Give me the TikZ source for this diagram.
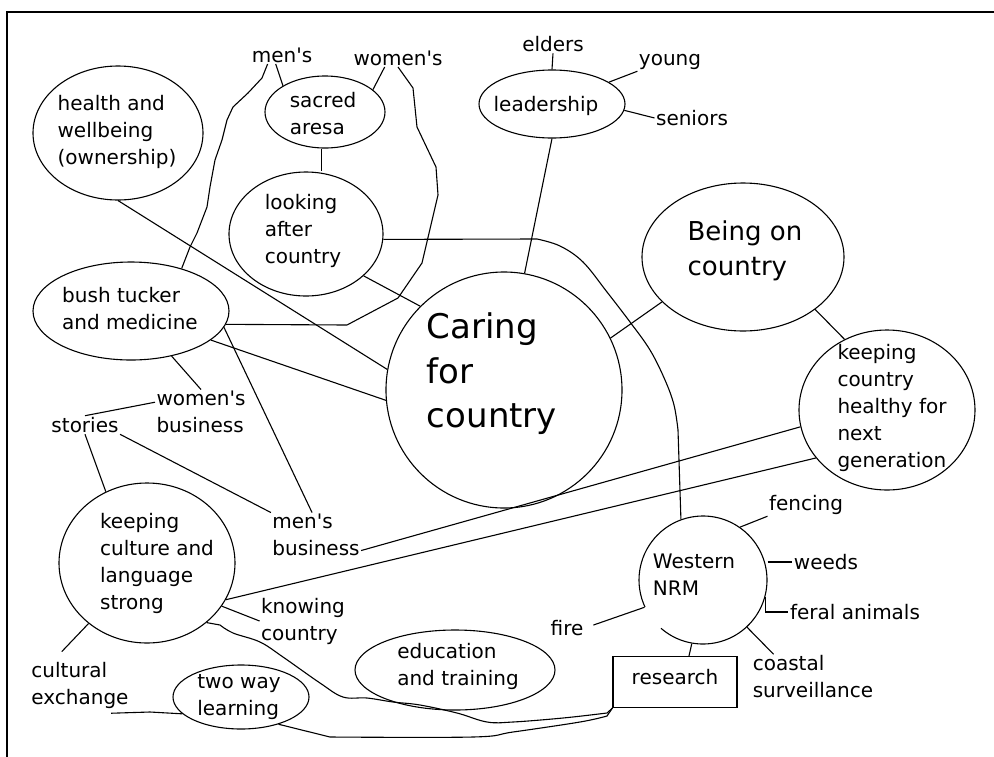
\documentclass[tikz,border=0pt]{standalone}
\usepackage{fontspec}
\setmainfont{DejaVu Sans}
\usetikzlibrary{shapes.geometric}

\begin{document}
\begin{tikzpicture}[x=1pt,y=-1pt,line width=1.1pt,
  bubble/.style={draw,ellipse,inner sep=0pt},
  ring/.style={draw,circle,inner sep=0pt},
  txt/.style={align=left,inner sep=1pt,font=\fontsize{20}{27}\selectfont},
  midtxt/.style={align=left,inner sep=1pt,font=\fontsize{26}{35}\selectfont},
  bigtxt/.style={align=left,inner sep=1pt,font=\fontsize{34}{44.5}\selectfont}]
\useasboundingbox (0,0) rectangle (994,756);
\draw[line width=2.6pt] (7,770) -- (7,12) -- (1010,12);

\node[bubble,minimum width=170pt,minimum height=134pt] (health) at (118,133) {};
\node[bubble,minimum width=120pt,minimum height=72pt] (sacred) at (325,112) {};
\node[bubble,minimum width=154pt,minimum height=124pt] (looking) at (306,234) {};
\node[bubble,minimum width=196pt,minimum height=98pt] (bush) at (131,311) {};
\node[bubble,minimum width=146pt,minimum height=68pt] (leadership) at (552,104) {};
\node[bubble,minimum width=202pt,minimum height=148pt] (being) at (743,257) {};
\node[ring,minimum size=236pt] (caring) at (504,390) {};
\node[bubble,minimum width=176pt,minimum height=160pt] (healthy) at (887,410) {};
\node[bubble,minimum width=176pt,minimum height=160pt] (culture) at (147,563) {};
\node[circle,inner sep=0pt,minimum size=128pt] (nrm) at (703,580) {};
\draw ([shift={(229:64pt)}]nrm.center) arc[start angle=229,end angle=565,radius=64pt];
\node[bubble,minimum width=200pt,minimum height=80pt] (education) at (455,670) {};
\node[bubble,minimum width=136pt,minimum height=64pt] (twoway) at (241,697) {};
\node[draw,inner sep=0pt,minimum width=124pt,minimum height=51pt] (research) at (675,682) {};

\node[txt] (healthtxt) at (117,132) {health and\\wellbeing\\(ownership)};
\node[txt] (sacredtxt) at (323,114) {sacred\\aresa};
\node[txt] (lookingtxt) at (303,231) {looking\\after\\country};
\node[txt] (bushtxt) at (130,309) {bush tucker\\and medicine};
\node[txt] (leadershiptxt) at (546,106) {leadership};
\node[midtxt] (beingtxt) at (745,251) {Being on\\country};
\node[bigtxt] (caringtxt) at (492,374) {Caring\\for\\country};
\node[txt] (healthytxt) at (892,408) {keeping\\country\\healthy for\\next\\generation};
\node[txt] (culturetxt) at (157,563) {keeping\\culture and\\language\\strong};
\node[txt] (nrmtxt) at (694,575) {Western\\NRM};
\node[txt] (educationtxt) at (458,666) {education\\and training};
\node[txt] (twowaytxt) at (239,697) {two way\\learning};
\node[txt] (researchtxt) at (675,677) {research};

\node[txt] (mens) at (282,55) {men\textquotesingle s};
\node[txt] (womens) at (398,58) {women\textquotesingle s};
\node[txt] (elders) at (553,44) {elders};
\node[txt] (young) at (670,62) {young};
\node[txt] (seniors) at (692,118) {seniors};
\node[txt] (womenbiz) at (201,412) {women\textquotesingle s\\business};
\node[txt] (stories) at (85,425) {stories};
\node[txt] (menbiz) at (316,535) {men\textquotesingle s\\business};
\node[txt] (knowing) at (303,621) {knowing\\country};
\node[txt] (exchange) at (80,685) {cultural\\exchange};
\node[txt] (fencing) at (806,505) {fencing};
\node[txt] (weeds) at (826,562) {weeds};
\node[txt] (feral) at (855,612) {feral animals};
\node[txt] (fire) at (567,628) {fire};
\node[txt] (coastal) at (813,677) {coastal\\surveillance};

\draw (health.south) -- (caring.170);
\draw (bush.-20) -- (caring.185);
\draw (looking.-36) -- (caring.135);
\draw (leadership.south) -- (caring.80);
\draw (being.209) -- (caring.26);
\draw (being.-36) -- (healthy.121);
\draw (healthy.191) -- (menbiz.-19);
\draw (healthy.214) -- (culture.-25);

\draw (sacred.-95) -- (sacred.-95 |- looking.north);
\draw (mens.235) -- (sacred.148);
\draw (womens.214) -- (sacred.25);
\draw (mens.212) -- (262,78) -- (248,93) -- (233,107) -- (227,120) -- (222,140) -- (215,160)
  -- (210,187) -- (207,207) -- (197,233) -- (190,247) -- (bush.40);
\draw (womens.south) -- (413,88) -- (417,127) -- (436,167) -- (438,195) -- (422,263)
  -- (398,298) -- (347,325) -- (bush.-8);
\draw (looking.-4) -- plot[smooth,tension=0.6] coordinates {(537,239) (560,246) (583,262)
  (607,292) (630,322) (650,350) (665,380) (674,405) (678,430)} -- (nrm.110);

\draw (leadership.north) -- (elders.south);
\draw (leadership.21) -- (young.south west);
\draw (leadership.-5) -- (seniors.west);

\draw (bush.-10) -- (menbiz.100);
\draw (bush.-48) -- (womenbiz.north);
\draw (stories.north) -- (womenbiz.168);
\draw (stories.south east) -- (menbiz.north west);
\draw (stories.south) -- (culture.120);
\draw (culture.-30) -- (knowing.west);
\draw[shorten >=12pt] (culture.226) -- (exchange.137);
\draw ([xshift=-19pt,yshift=-3.5pt]exchange.south east) -- (150,712) -- (twoway.196);
\draw (culture.-45) -- plot[smooth,tension=0.6] coordinates {(220,625) (233,633) (260,642)
  (283,657) (320,683) (343,697) (367,698) (393,702) (420,705) (457,713) (487,722) (513,722)
  (563,718) (607,713)} -- (research.south west);
\draw (twoway.-36) -- plot[smooth,tension=0.6] coordinates {(330,737) (473,737) (513,732)
  (580,722) (607,716)} -- (research.south west);

\draw (nrm.55) -- (fencing.south west);
\draw (nrm.east |- weeds.west) -- (weeds.west);
\draw (nrm.-15) |- (feral.west);
\draw (nrm.-47) -- (coastal.150);
\draw[shorten >=9pt] (nrm.205) -- (fire.east);
\draw (nrm.-100) -- ([xshift=14pt]research.north);
\end{tikzpicture}
\end{document}
